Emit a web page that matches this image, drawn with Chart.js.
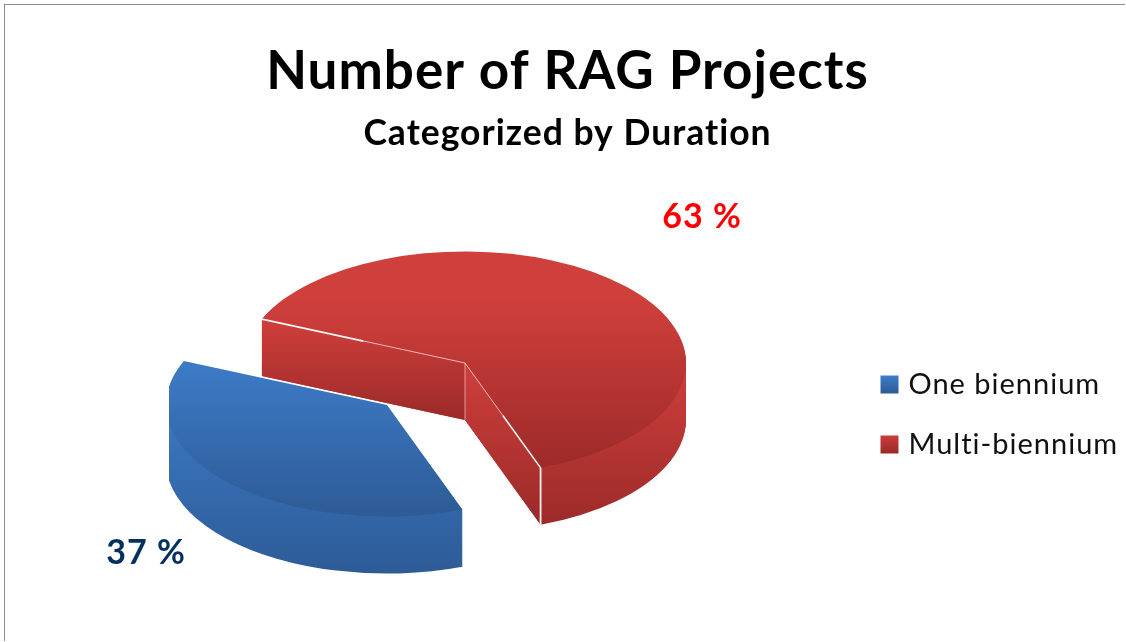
<!DOCTYPE html>
<html><head><meta charset="utf-8">
<script src="https://cdn.jsdelivr.net/npm/chart.js@4"></script>
<style>
html,body{margin:0;padding:0;background:#fff;overflow:hidden}
#frame{position:absolute;left:5px;top:5px;width:1121px;height:637px;box-shadow:-1px -1px 0 #8c8c8c}
canvas{display:block}
</style></head><body>
<div id="frame"><canvas id="c" width="1121" height="637"></canvas></div>
<script>
const categories = ['One biennium', 'Multi-biennium'];
const shares = [37, 63];
const titleText = 'Number of RAG Projects';
const subtitleText = 'Categorized by Duration';
const labelColors = ['#03305F', '#FF0000'];
const labelCenters = [[141, 548], [697, 212]];   // canvas coords
const lightColors = ['#3F7FCE', '#CF3F3C'];
const darkColors = ['#2D5B96', '#9A2A28'];
const PIE_CENTER = [460, 358];
const LEGEND_LEFT = 849, LEGEND_SHIFT = 91;
const FLAT = 0.505, DEPTH = 57;
const EXPLODE = [[-78, 42], [0, 0]];
const FONT = 'Lato, Carlito, sans-serif';
const SPACING = '1px';

function vGrad(ctx, y0, y1, i, mid) {
  const g = ctx.createLinearGradient(0, y0, 0, y1);
  g.addColorStop(0, lightColors[i]);
  if (mid) g.addColorStop(mid, lightColors[i]);
  g.addColorStop(1, darkColors[i]);
  return g;
}
function drawArcWith(arc, ctx, fill) {
  const saved = arc.options;
  arc.options = Object.assign({}, saved, {backgroundColor: fill});
  arc.draw(ctx);
  arc.options = saved;
}
function wall(ctx, p, q, i) {
  ctx.beginPath();
  ctx.moveTo(p[0], p[1]); ctx.lineTo(q[0], q[1]);
  ctx.lineTo(q[0], q[1] + DEPTH); ctx.lineTo(p[0], p[1] + DEPTH);
  ctx.closePath();
  ctx.fillStyle = vGrad(ctx, Math.min(p[1], q[1]), Math.max(p[1], q[1]) + DEPTH, i);
  ctx.fill();
}
function line(ctx, a, b, color, w) {
  ctx.beginPath(); ctx.moveTo(a[0], a[1]); ctx.lineTo(b[0], b[1]);
  ctx.strokeStyle = color; ctx.lineWidth = w; ctx.stroke();
}

const pie3d = {
  id: 'pie3d',
  beforeLayout(chart) { chart.ctx.letterSpacing = SPACING; },
  afterLayout(chart) {
    const area = chart.chartArea, w = (area.right - area.left) / 2, h = (area.bottom - area.top) / 2;
    area.left = PIE_CENTER[0] - w; area.right = PIE_CENTER[0] + w;
    area.top = PIE_CENTER[1] - h; area.bottom = PIE_CENTER[1] + h;
    const lg = chart.legend;
    lg.left = LEGEND_LEFT;
    lg.top += LEGEND_SHIFT; lg.bottom += LEGEND_SHIFT;
  },
  beforeDraw(chart) { chart.ctx.letterSpacing = SPACING; },
  beforeDatasetDraw(chart) {
    const ctx = chart.ctx, arcs = chart.getDatasetMeta(0).data;
    const scr = (arc, a) => [arc.x + Math.cos(a) * arc.outerRadius, arc.y + Math.sin(a) * arc.outerRadius * FLAT];
    const slice = (i, walls) => {
      const arc = arcs[i], ry = arc.outerRadius * FLAT;
      ctx.save();
      ctx.translate(EXPLODE[i][0], EXPLODE[i][1]);
      for (let d = DEPTH; d >= 1; d--) {
        ctx.save();
        ctx.translate(arc.x, arc.y + d);
        ctx.scale(1, FLAT);
        ctx.translate(-arc.x, -arc.y);
        const u = y => arc.y + (y - arc.y - d) / FLAT;
        const top = i ? arc.y : arc.y - ry * 0.3;
        drawArcWith(arc, ctx, vGrad(ctx, u(top), u(arc.y + ry + DEPTH), i));
        ctx.restore();
      }
      if (walls) walls(arc, scr);
      ctx.save();
      ctx.translate(arc.x, arc.y);
      ctx.scale(1, FLAT);
      ctx.translate(-arc.x, -arc.y);
      const u0 = y => arc.y + (y - arc.y) / FLAT;
      drawArcWith(arc, ctx, vGrad(ctx, u0(arc.y - ry), u0(arc.y + ry), i, 0.22));
      ctx.restore();
      ctx.restore();
    };
    let edges;
    slice(1, (arc, s) => {
      const c = [arc.x, arc.y], a = s(arc, arc.startAngle), b = s(arc, arc.endAngle);
      wall(ctx, b, c, 1);
      wall(ctx, c, a, 1);
      edges = {a, b, c};
    });
    const {a, b, c} = edges;
    const mid = (p, q) => [(p[0] + q[0]) / 2, (p[1] + q[1]) / 2];
    line(ctx, b, mid(b, c), 'rgba(255,255,255,0.95)', 1.6);
    line(ctx, mid(b, c), c, 'rgba(255,225,225,0.75)', 1);
    line(ctx, b, [b[0], b[1] + DEPTH], 'rgba(255,255,255,0.95)', 1.8);
    line(ctx, c, [c[0], c[1] + DEPTH], 'rgba(255,225,225,0.6)', 1);
    line(ctx, a, mid(a, c), 'rgba(255,255,255,0.95)', 1.8);
    line(ctx, mid(a, c), c, 'rgba(255,225,225,0.75)', 1);
    ctx.save();
    ctx.beginPath();
    ctx.rect(arcs[0].x + EXPLODE[0][0] - arcs[0].outerRadius + 3, 0, chart.width, chart.height);
    ctx.clip();
    slice(0);
    ctx.restore();
    return false;
  },
  afterDraw(chart) {
    const ctx = chart.ctx;
    ctx.save();
    ctx.font = 'bold 34px ' + FONT;
    ctx.textAlign = 'center';
    ctx.textBaseline = 'middle';
    shares.forEach((v, i) => {
      ctx.fillStyle = labelColors[i];
      ctx.fillText(v + ' %', labelCenters[i][0], labelCenters[i][1]);
    });
    ctx.restore();
  }
};

new Chart(document.getElementById('c'), {
  type: 'pie',
  data: {
    labels: categories,
    datasets: [{data: shares, backgroundColor: lightColors, borderWidth: 0}]
  },
  options: {
    responsive: false,
    animation: false,
    rotation: 160,
    radius: 221,
    layout: {padding: {left: 4, right: 0, top: 0, bottom: 0}},
    plugins: {
      tooltip: {enabled: false},
      title: {display: true, text: titleText, color: '#000',
              font: {family: FONT, size: 53, weight: 'bold'}, padding: {top: 35, bottom: 0}},
      subtitle: {display: true, text: subtitleText, color: '#000',
              font: {family: FONT, size: 35.5, weight: 'bold'}, padding: {top: 9, bottom: 10}},
      legend: {
        position: 'right',
        labels: {
          boxWidth: 9, boxHeight: 9, padding: 31,
          color: '#111', font: {family: FONT, size: 29},
          generateLabels(chart) {
            return chart.data.labels.map((t, i) => {
              const g = vGrad(chart.ctx, 369 + i * 60, 388 + i * 60, i);
              return {text: t, index: i, lineWidth: 9, strokeStyle: g, fillStyle: g, fontColor: '#111'};
            });
          }
        }
      }
    }
  },
  plugins: [pie3d]
});
</script>
</body></html>
